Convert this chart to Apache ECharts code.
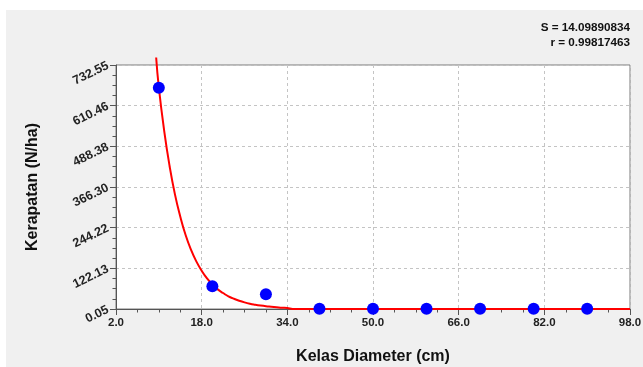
<!DOCTYPE html>
<html><head><meta charset="utf-8">
<script src="https://cdn.jsdelivr.net/npm/echarts@6/dist/echarts.min.js"></script>
<style>html,body{margin:0;padding:0;background:#fff;overflow:hidden}#c{width:643px;height:367px}</style>
</head><body><div id="c"></div>
<script>
// ---- data ----
const xTickLabels = ['2.0', '18.0', '34.0', '50.0', '66.0', '82.0', '98.0'];
const yTickLabels = ['0.05', '122.13', '244.22', '366.30', '488.38', '610.46', '732.55'];
const diameterClass = [10, 20, 30, 40, 50, 60, 70, 80, 90];
const density = [664, 68, 44, 0.5, 0.5, 0.5, 0.5, 0.5, 0.5];
const fitX = [9.5, 10, 11, 12, 13, 14, 15, 16, 17, 18, 19, 20, 21, 22, 23, 24, 25, 26, 27, 28, 29, 30, 31, 32, 33, 34, 35, 98];
const fitY = [755, 665, 535, 430, 345, 278, 222, 178, 143, 115, 92, 74, 59, 48, 38, 31, 25, 20, 16, 13, 10.5, 8.5, 7, 5.5, 4, 3, 0.3, 0.3];
const statsLines = ['S = 14.09890834', 'r = 0.99817463'];
const xTitle = 'Kelas Diameter (cm)';
const yTitle = 'Kerapatan (N/ha)';

// ---- derived ticks ----
const xMajor = xTickLabels.map(Number);
const yMajor = yTickLabels.map(Number);
function minorOf(arr, n) {
  const out = [];
  for (let i = 0; i < arr.length - 1; i++) {
    for (let k = 0; k < n; k++) out.push(arr[i] + (arr[i + 1] - arr[i]) * k / n);
  }
  out.push(arr[arr.length - 1]);
  return out;
}
const xMinor = minorOf(xMajor, 4);
const yMinor = minorOf(yMajor, 4);

const FONT = '"Liberation Sans", Arial, sans-serif';
const AX = '#555';
const grid = { left: 116, top: 65, width: 514, height: 244, outerBoundsMode: 'none', containLabel: false };

const chart = echarts.init(document.getElementById('c'), null, { renderer: 'canvas' });
chart.setOption({
  backgroundColor: '#ffffff',
  animation: false,
  graphic: [
    { type: 'rect', z: -10, silent: true, shape: { x: 6, y: 10, width: 640, height: 360 }, style: { fill: '#f0f0f0' } },
    { type: 'text', right: 13, top: 22, style: { text: statsLines[0], font: 'bold 11.7px ' + FONT, fill: '#111', textAlign: 'right' } },
    { type: 'text', right: 13, top: 37, style: { text: statsLines[1], font: 'bold 11.7px ' + FONT, fill: '#111', textAlign: 'right' } }
  ],
  grid: [
    Object.assign({ show: true, backgroundColor: '#ffffff', borderColor: '#7a7a7a', borderWidth: 1 }, grid),
    Object.assign({ show: false }, grid)
  ],
  xAxis: [
    {
      type: 'value', gridIndex: 0, min: 2, max: 98, position: 'bottom',
      name: xTitle, nameLocation: 'middle', nameGap: 40,
      nameTextStyle: { fontFamily: FONT, fontWeight: 'bold', fontSize: 16, color: '#111' },
      axisLine: { show: true, onZero: false, lineStyle: { color: AX, width: 1 } },
      axisTick: { show: true, customValues: xMajor, length: 6, lineStyle: { color: AX } },
      axisLabel: { customValues: xMajor, formatter: v => v.toFixed(1), fontFamily: FONT, fontWeight: 'bold', fontSize: 11.5, color: '#222', margin: 8 },
      splitLine: { show: true, lineStyle: { color: '#c4c4c4', type: [3, 3] } }
    },
    {
      type: 'value', gridIndex: 1, min: 2, max: 98, position: 'bottom',
      axisLine: { show: false, onZero: false },
      axisTick: { show: true, customValues: xMinor, length: 3.5, lineStyle: { color: AX } },
      axisLabel: { show: false },
      splitLine: { show: false }
    }
  ],
  yAxis: [
    {
      type: 'value', gridIndex: 0, min: 0.05, max: 732.55, position: 'left',
      name: yTitle, nameLocation: 'middle', nameGap: 75, nameRotate: 90,
      nameTextStyle: { fontFamily: FONT, fontWeight: 'bold', fontSize: 16, color: '#111' },
      axisLine: { show: true, onZero: false, lineStyle: { color: AX, width: 1 } },
      axisTick: { show: true, customValues: yMajor, length: 6, lineStyle: { color: AX } },
      axisLabel: { customValues: yMajor, formatter: v => v.toFixed(2), rotate: 26, fontFamily: FONT, fontWeight: 'bold', fontSize: 12.5, color: '#222', margin: 8 },
      splitLine: { show: true, lineStyle: { color: '#c4c4c4', type: [3, 3] } }
    },
    {
      type: 'value', gridIndex: 1, min: 0.05, max: 732.55, position: 'left',
      axisLine: { show: false, onZero: false },
      axisTick: { show: true, customValues: yMinor, length: 3.5, lineStyle: { color: AX } },
      axisLabel: { show: false },
      splitLine: { show: false }
    }
  ],
  series: [
    {
      type: 'line', xAxisIndex: 0, yAxisIndex: 0, clip: false, z: 3,
      data: fitX.map((x, i) => [x, fitY[i]]),
      showSymbol: false, smooth: true,
      lineStyle: { color: '#ff0000', width: 2 }
    },
    {
      type: 'scatter', xAxisIndex: 0, yAxisIndex: 0, clip: false, z: 4,
      data: diameterClass.map((x, i) => [x, density[i]]),
      symbol: 'circle', symbolSize: 12,
      itemStyle: { color: '#0000ff', opacity: 1 }
    }
  ]
});
</script></body></html>
